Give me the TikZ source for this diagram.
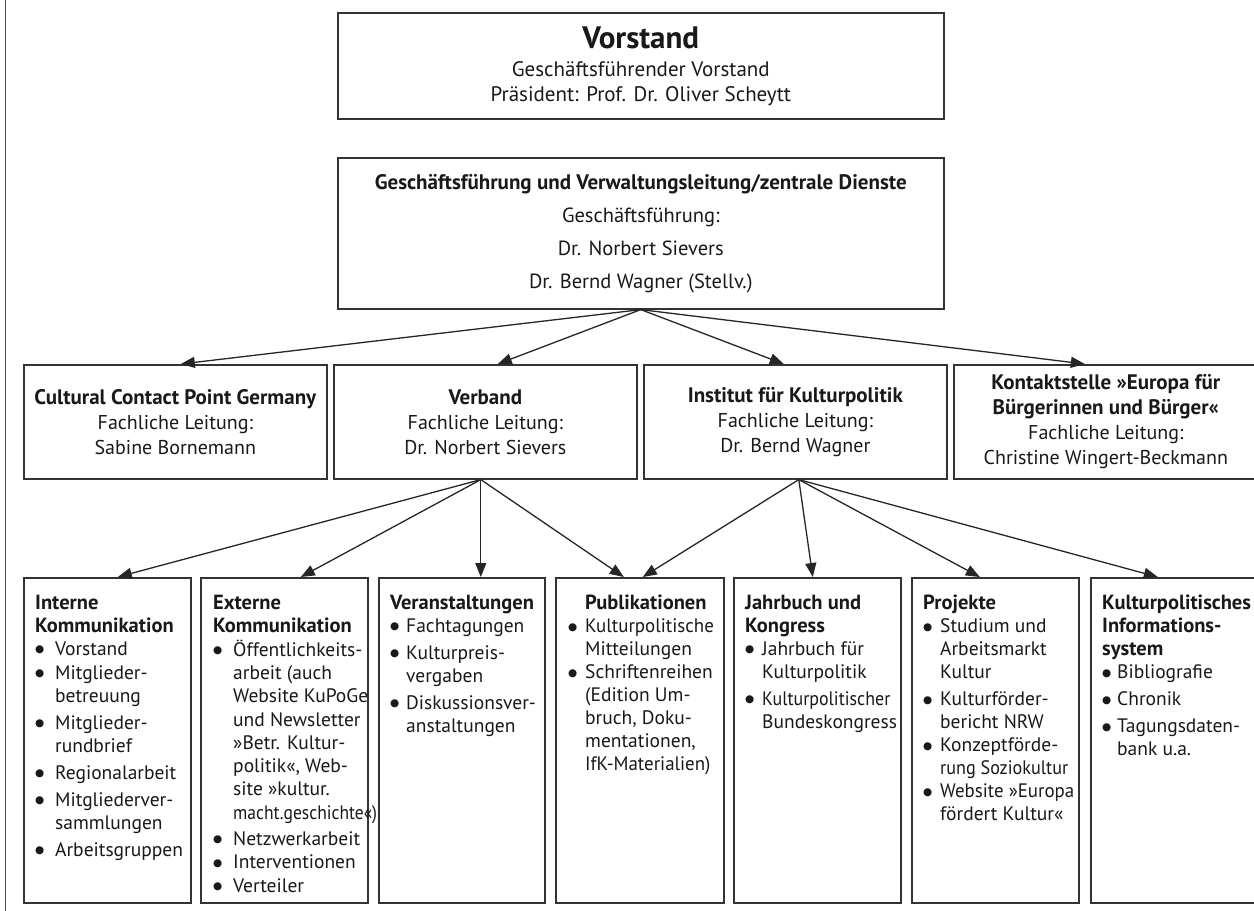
\documentclass[tikz,border=0pt]{standalone}
\usepackage{fontspec}
\usepackage{graphicx}
\setmainfont{PT Sans}
\newfontfamily\dejavu{DejaVu Sans}
\usetikzlibrary{arrows.meta}
\newlength\bind
\newcommand\bul{\raisebox{2.6pt}{\dejavu\fontsize{10.5}{10.5}\selectfont ●}}
\newcommand\bi[1]{\makebox[\bind][l]{\bul}#1}
\newcommand\ci[1]{\hspace*{\bind}#1}
\newcommand\hd[1]{{\fontsize{20.5}{23}\selectfont\bfseries #1}}
\newcommand\hb[1]{{\fontsize{21}{25}\selectfont\bfseries #1}}
\newcommand\sq[2]{\scalebox{#1}[1]{#2}}
\begin{document}
\begin{tikzpicture}[x=1pt,y=-1pt,
  box/.style={draw=black!80,line width=1.6pt,inner sep=0pt,anchor=north west,
    align=center,text=black!90,font=\fontsize{20}{25}\selectfont},
  btext/.style={inner sep=0pt,anchor=north west,align=left,text=black!90,
    font=\fontsize{19.5}{23}\selectfont},
  arr/.style={draw=black!85,line width=1.3pt,-{Triangle[length=14pt,width=11pt]}}]
\clip (0,0) rectangle (1254,911);
\fill[white] (0,0) rectangle (1254,911);
\draw[black!70,line width=1.3pt] (5.5,0) -- (5.5,911);
% top boxes
\node[box,minimum width=606pt,minimum height=106pt,font=\fontsize{21}{25}\selectfont] (vorstand) at (337,12)
  {{\fontsize{31}{31}\selectfont\bfseries Vorstand}\\[3pt]
   Geschäftsführender Vorstand\\ Präsident: Prof. Dr. Oliver Scheytt};
\node[box,minimum width=606pt,minimum height=151pt,font=\fontsize{20.5}{33}\selectfont] (gf) at (337,157)
  {\hb{Geschäftsführung und Verwaltungsleitung/zentrale Dienste}\\
   Geschäftsführung:\\ Dr. Norbert Sievers\\ Dr. Bernd Wagner (Stellv.)};
% second row
\node[box,minimum width=303pt,minimum height=114pt] (ccp) at (23,364)
  {\hb{Cultural Contact Point Germany}\\ Fachliche Leitung:\\ Sabine Bornemann};
\node[box,minimum width=303pt,minimum height=114pt] (verband) at (333,364)
  {\hb{Verband}\\ Fachliche Leitung:\\ Dr. Norbert Sievers};
\node[box,minimum width=303pt,minimum height=114pt] (institut) at (643,364)
  {\hb{Institut für Kulturpolitik}\\ Fachliche Leitung:\\ Dr. Bernd Wagner};
\node[box,minimum width=304pt,minimum height=114pt] (kontakt) at (953,364)
  {\hb{Kontaktstelle »Europa für}\\ \hb{Bürgerinnen und Bürger«}\\ Fachliche Leitung:\\ Christine Wingert-Beckmann};
% third row boxes
\node[box,minimum width=167pt,minimum height=325pt] (b1) at (23,577) {};
\node[box,minimum width=167pt,minimum height=325pt] (b2) at (200,577) {};
\node[box,minimum width=166pt,minimum height=325pt] (b3) at (378,577) {};
\node[box,minimum width=168pt,minimum height=325pt] (b4) at (555,577) {};
\node[box,minimum width=167pt,minimum height=325pt] (b5) at (733,577) {};
\node[box,minimum width=167pt,minimum height=325pt] (b6) at (911,577) {};
\node[box,minimum width=167pt,minimum height=325pt] (b7) at (1090,577) {};
% texts
\setlength\bind{20pt}
\node[btext] (t1) at ([shift={(12pt,-18pt)}]b1.north west)
  {\hd{Interne}\\ \hd{Kommunikation}\\ \bi{Vorstand}\\[1pt] \bi{Mitglieder-}\\ \ci{betreuung}\\[4pt]
   \bi{Mitglieder-}\\ \ci{rundbrief}\\[4pt] \bi{Regionalarbeit}\\[4pt] \bi{Mitgliederver-}\\ \ci{sammlungen}\\[4pt]
   \bi{Arbeitsgruppen}};
\node[btext,font=\fontsize{19.5}{23.3}\selectfont] (t2) at ([shift={(13pt,-18pt)}]b2.north west)
  {\hd{Externe}\\ \hd{Kommunikation}\\ \bi{Öffentlichkeits-}\\ \ci{arbeit (auch}\\ \ci{Website KuPoGe}\\
   \ci{und Newsletter}\\ \ci{»Betr. Kultur-}\\ \ci{politik«, Web-}\\ \ci{site »kultur.}\\
   \ci{\sq{0.9}{macht.geschichte«)}}\\[3pt] \bi{Netzwerkarbeit}\\ \bi{Interventionen}\\ \bi{Verteiler}};
\setlength\bind{16pt}
\node[btext] (t3) at ([shift={(12pt,-18pt)}]b3.north west)
  {\hd{Veranstaltungen}\\ \bi{Fachtagungen}\\[4pt] \bi{Kulturpreis-}\\ \ci{vergaben}\\[4pt]
   \bi{Diskussionsver-}\\ \ci{anstaltungen}};
\setlength\bind{17pt}
\node[btext] (t4) at ([shift={(13pt,-18pt)}]b4.north west)
  {\ci{\hd{Publikationen}}\\ \bi{\sq{0.97}{Kulturpolitische}}\\ \ci{Mitteilungen}\\ \bi{Schriftenreihen}\\
   \ci{(Edition Um-}\\ \ci{bruch, Doku-}\\ \ci{mentationen,}\\ \ci{\sq{0.97}{IfK-Materialien)}}};
\node[btext] (t5) at ([shift={(12pt,-18pt)}]b5.north west)
  {\hd{Jahrbuch und}\\ \hd{Kongress}\\ \bi{Jahrbuch für}\\ \ci{Kulturpolitik}\\[4pt]
   \bi{\sq{0.92}{Kulturpolitischer}}\\ \ci{Bundeskongress}};
\node[btext] (t6) at ([shift={(12pt,-18pt)}]b6.north west)
  {\hd{Projekte}\\ \bi{Studium und}\\ \ci{Arbeitsmarkt}\\ \ci{Kultur}\\[4pt] \bi{Kulturförder-}\\ \ci{bericht NRW}\\
   \bi{Konzeptförde-}\\ \ci{\sq{0.93}{rung Soziokultur}}\\ \bi{\sq{0.97}{Website »Europa}}\\ \ci{fördert Kultur«}};
\setlength\bind{15pt}
\node[btext] (t7) at ([shift={(12pt,-18pt)}]b7.north west)
  {\hd{Kulturpolitisches}\\ \hd{Informations-}\\ \hd{system}\\ \bi{Bibliografie}\\[4pt] \bi{Chronik}\\[4pt]
   \bi{Tagungsdaten-}\\ \ci{bank u.a.}};
% arrows
\draw[arr] (gf.south) -- ([xshift=5.5pt]ccp.north);
\draw[arr] (gf.south) -- ([xshift=12.5pt]verband.north);
\draw[arr] (gf.south) -- ([xshift=-11.5pt]institut.north);
\draw[arr] (gf.south) -- ([xshift=-21pt]kontakt.north);
\draw[arr] ([xshift=-4.5pt]verband.south) -- ([xshift=10.5pt]b1.north);
\draw[arr] ([xshift=-4.5pt]verband.south) -- ([xshift=16.5pt]b2.north);
\draw[arr] ([xshift=-4.5pt]verband.south) -- ([xshift=19pt]b3.north);
\draw[arr] ([xshift=-4.5pt]verband.south) -- ([xshift=-16pt]b4.north);
\draw[arr] ([xshift=3.5pt]institut.south) -- ([xshift=3pt]b4.north);
\draw[arr] ([xshift=3.5pt]institut.south) -- ([xshift=-4.5pt]b5.north);
\draw[arr] ([xshift=3.5pt]institut.south) -- ([xshift=-15.5pt]b6.north);
\draw[arr] ([xshift=3.5pt]institut.south) -- ([xshift=-16.5pt]b7.north);
\end{tikzpicture}
\end{document}
